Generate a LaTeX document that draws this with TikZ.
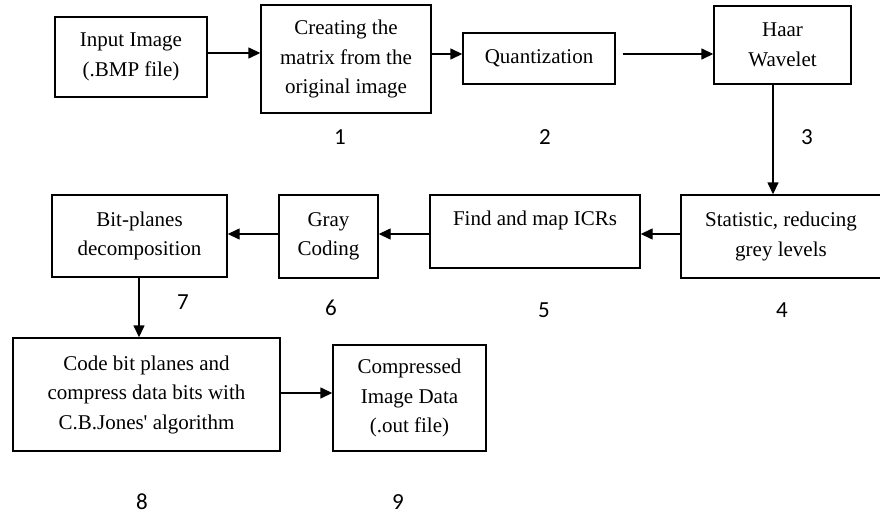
\documentclass[tikz,border=0pt]{standalone}
\usepackage{fontspec}
\setmainfont{Liberation Serif}
\newfontfamily\numfont{Carlito}
\usetikzlibrary{arrows.meta}
\begin{document}
\begin{tikzpicture}[x=1pt,y=-1pt,
  box/.style={draw=black,line width=1.4pt,inner sep=0pt,align=center,
    font=\fontsize{21}{29.5}\selectfont},
  arr/.style={line width=1.4pt,-{Triangle[length=12pt,width=11pt]}},
  num/.style={font=\numfont\fontsize{23}{26}\selectfont,inner sep=0pt}]
\useasboundingbox (0,0) rectangle (880,514);
\fill[white] (0,0) rectangle (880,514);
% boxes
\node[box,minimum width=152pt,minimum height=80pt] (in) at (131,57) {Input Image\\(.BMP file)};
\node[box,minimum width=170pt,minimum height=108pt] (c1) at (346,59) {Creating the\\matrix from the\\original image};
\node[box,minimum width=152pt,minimum height=51pt] (q) at (539,58.5) {Quantization};
\node[box,minimum width=137pt,minimum height=78pt] (haar) at (782.5,45) {Haar\\Wavelet};
\node[box,minimum width=200pt,minimum height=83pt] (stat) at (781,236.5) {Statistic, reducing\\grey levels};
\node[box,minimum width=210pt,minimum height=73pt,text height=14pt,text depth=27pt] (icr) at (535,231.5) {Find and map ICRs};
\node[box,minimum width=99pt,minimum height=83pt] (gray) at (328.5,236.5) {Gray\\Coding};
\node[box,minimum width=175pt,minimum height=82pt] (bit) at (139.5,236) {Bit-planes\\decomposition};
\node[box,minimum width=267pt,minimum height=113pt] (code) at (146.5,394.5) {Code bit planes and\\compress data bits with\\C.B.Jones\textquotesingle{} algorithm};
\node[box,minimum width=153pt,minimum height=106pt] (comp) at (409.5,398) {Compressed\\Image Data\\(.out file)};
% reference coordinates for connector levels
\coordinate (r0) at (0,53);
\coordinate (r1) at (0,54);
\coordinate (v1) at (773,0);
\coordinate (r2) at (0,234);
\coordinate (v2) at (139,0);
\coordinate (r3) at (0,393);
% connectors
\draw[arr] (in.east |- r0) -- (c1.west |- r0);
\draw[arr] (c1.east |- r1) -- (q.west |- r1);
\draw[arr] ([xshift=7pt]q.east |- r1) -- (haar.west |- r1);
\draw[arr] (haar.south -| v1) -- (stat.north -| v1);
\draw[arr] (stat.west |- r2) -- (icr.east |- r2);
\draw[arr] (icr.west |- r2) -- (gray.east |- r2);
\draw[arr] (gray.west |- r2) -- (bit.east |- r2);
\draw[arr] (bit.south -| v2) -- (code.north -| v2);
\draw[arr] (code.east |- r3) -- (comp.west |- r3);
% step numbers
\node[num] (n1) at (340,137) {1};
\node[num] (n2) at (545,137) {2};
\node[num] (n3) at (807,137) {3};
\node[num] (n4) at (782,310) {4};
\node[num] (n5) at (544,310) {5};
\node[num] (n6) at (331,308) {6};
\node[num] (n7) at (183,302) {7};
\node[num] (n8) at (142,502) {8};
\node[num] (n9) at (398,502) {9};
\end{tikzpicture}
\end{document}
